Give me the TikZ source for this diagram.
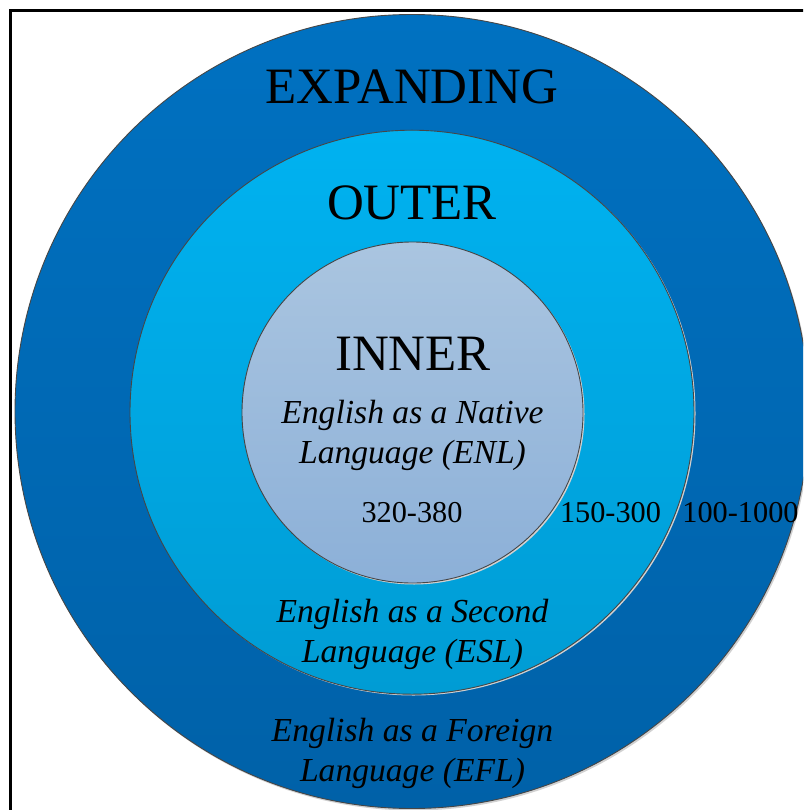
\documentclass[tikz,border=0pt]{standalone}
\usepackage{fontspec}
\setmainfont{Liberation Serif}
\definecolor{expTop}{RGB}{0,113,193}
\definecolor{expBot}{RGB}{0,97,168}
\definecolor{outTop}{RGB}{0,178,240}
\definecolor{outBot}{RGB}{0,156,212}
\definecolor{innTop}{RGB}{170,197,224}
\definecolor{innBot}{RGB}{140,176,216}
\definecolor{rimcol}{RGB}{70,70,70}
\tikzset{
  ring/.style={draw=rimcol, line width=0.9pt},
  halo/.style={fill=black!18},
  title/.style={font=\fontsize{51}{51}\selectfont, anchor=base, inner sep=0pt},
  note/.style={font=\fontsize{33.6}{33.6}\selectfont\itshape, anchor=base, inner sep=0pt},
  count/.style={font=\fontsize{30.3}{30.3}\selectfont, anchor=base, inner sep=0pt}
}
\begin{document}
\begin{tikzpicture}[x=1pt,y=-1pt]
  \useasboundingbox (0,0) rectangle (803,810);
  \clip (0,0) rectangle (803,810);
  \fill[white] (0,0) rectangle (803,810);
  % page frame (runs off the right and bottom edges)
  \draw[line width=2.2pt, black] (10.5,10.5) rectangle (830,840);

  % expanding circle
  \fill[halo] (413.5,413.5) circle (397);
  \shade[top color=expTop, bottom color=expBot] (412,411.5) circle (397);
  \draw[ring] (412,411.5) circle (397);
  % outer circle
  \fill[halo] (413.5,413.5) circle (282);
  \shade[top color=outTop, bottom color=outBot] (412,412.2) circle (282);
  \draw[ring] (412,412.2) circle (282);
  % inner circle
  \fill[halo] (414,414) circle (170.5);
  \shade[top color=innTop, bottom color=innBot] (412.5,412.5) circle (170.5);
  \draw[ring] (412.5,412.5) circle (170.5);

  % circle titles
  \node[title] (exp) at (412,104) {EXPANDING};
  \node[title] (out) at (412,220) {OUTER};
  \node[title] (inn) at (413,370) {INNER};

  % descriptions
  \node[note] (enl1) at (412.5,423) {English as a Native};
  \node[note] (enl2) at (412.5,463) {Language (ENL)};
  \node[note] (esl1) at (412.5,622) {English as a Second};
  \node[note] (esl2) at (412.5,662) {Language (ESL)};
  \node[note] (efl1) at (412.5,741) {English as a Foreign};
  \node[note] (efl2) at (412.5,781) {Language (EFL)};

  % speaker counts
  \node[count] (c1) at (412,522) {320-380};
  \node[count] (c2) at (610.5,522) {150-300};
  \node[count] (c3) at (740.5,522) {100-1000};
\end{tikzpicture}
\end{document}
